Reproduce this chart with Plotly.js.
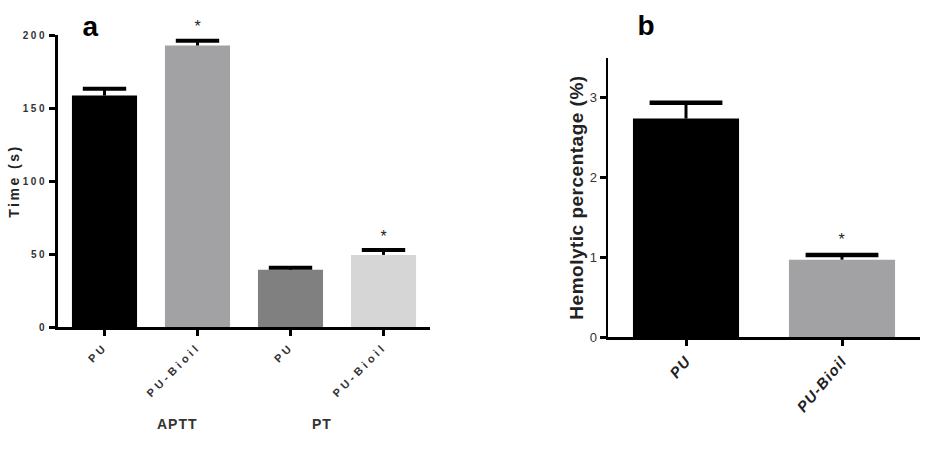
<!DOCTYPE html>
<html>
<head>
<meta charset="utf-8">
<script src="https://cdn.plot.ly/plotly-3.0.1.min.js"></script>
<style>
html,body{margin:0;padding:0;background:#fff;}
#chart{width:925px;height:450px;}
#chart g.xtick text{letter-spacing:3.5px;}
#chart g.ytick text{letter-spacing:2.5px;}
#chart text.ytitle{letter-spacing:2.5px;}
#chart text.y2title{letter-spacing:0.5px;}
#chart g.x2tick text{letter-spacing:1.2px;}
#chart g.annotation-text-g text{letter-spacing:1px;}
</style>
</head>
<body>
<div id="chart"></div>
<script>
// Panel a: coagulation times
const aLabels = ["PU", "PU-Bioil", "PU", "PU-Bioil"];
const aGroups = ["APTT", "PT"];
const aValues = [158.5, 192.8, 39.2, 49.4];
const aErrors = [4.6, 3.2, 1.3, 3.3];
const aColors = ["#000000", "#a2a2a4", "#808080", "#d6d6d6"];
const aSignificant = [false, true, false, true];

// Panel b: hemolysis
const bLabels = ["PU", "PU-Bioil"];
const bValues = [2.74, 0.97];
const bErrors = [0.2, 0.06];
const bColors = ["#000000", "#a2a2a4"];
const bSignificant = [false, true];

const aIdx = aLabels.map((_, i) => i);
const bIdx = bLabels.map((_, i) => i);
const zeros = n => new Array(n).fill(0);
const tops = (v, e) => v.map((x, i) => x + e[i]);

const font = "Liberation Sans, Arial, sans-serif";

function errTrace(idx, vals, errs, xa, ya, capW, capT) {
  return {
    type: "scatter", mode: "markers", x: idx, y: tops(vals, errs), xaxis: xa, yaxis: ya,
    marker: {symbol: "line-ew", size: capW, color: "#000", line: {color: "#000", width: capT}},
    error_y: {type: "data", symmetric: false, array: zeros(vals.length), arrayminus: errs,
              color: "#000", thickness: 3, width: 0},
    hoverinfo: "skip", cliponaxis: false
  };
}

const traces = [
  {
    type: "bar", x: aIdx, y: aValues, xaxis: "x", yaxis: "y",
    marker: {color: aColors, line: {width: 0}}, width: 0.7, hoverinfo: "skip"
  },
  errTrace(aIdx, aValues, aErrors, "x", "y", 31, 4),
  {
    type: "bar", x: bIdx, y: bValues, xaxis: "x2", yaxis: "y2",
    marker: {color: bColors, line: {width: 0}}, width: 0.68, hoverinfo: "skip"
  },
  errTrace(bIdx, bValues, bErrors, "x2", "y2", 52, 4.5)
];

const annotations = [];
aSignificant.forEach((s, i) => {
  if (s) annotations.push({xref: "x", yref: "y", x: aIdx[i], y: aValues[i] + aErrors[i],
    text: "*", showarrow: false, yanchor: "middle", yshift: 14, font: {family: font, size: 16, color: "#222"}});
});
bSignificant.forEach((s, i) => {
  if (s) annotations.push({xref: "x2", yref: "y2", x: bIdx[i], y: bValues[i] + bErrors[i],
    text: "*", showarrow: false, yanchor: "middle", yshift: 15, font: {family: font, size: 16, color: "#222"}});
});
const groupX = [177, 322];
aGroups.forEach((g, gi) => {
  annotations.push({xref: "paper", yref: "paper", x: groupX[gi] / 925, y: 1 - 424 / 450,
    xanchor: "center", yanchor: "middle",
    text: "<b>" + g + "</b>", showarrow: false, font: {family: font, size: 14, color: "#333"}});
});
annotations.push({xref: "paper", yref: "paper", x: 91 / 925, y: 1 - 26 / 450, xanchor: "center", yanchor: "middle",
  text: "<b>a</b>", showarrow: false, font: {family: font, size: 28, color: "#000"}});
annotations.push({xref: "paper", yref: "paper", x: 646 / 925, y: 1 - 25 / 450, xanchor: "center", yanchor: "middle",
  text: "<b>b</b>", showarrow: false, font: {family: font, size: 28, color: "#000"}});

const axisCommon = {
  showgrid: false, zeroline: false, showline: true, linecolor: "#000", linewidth: 3,
  ticks: "outside", ticklen: 6, tickwidth: 3, tickcolor: "#000", fixedrange: true
};

const layout = {
  width: 925, height: 450,
  margin: {l: 0, r: 0, t: 0, b: 0},
  paper_bgcolor: "#fff", plot_bgcolor: "#fff",
  showlegend: false,
  xaxis: Object.assign({}, axisCommon, {
    domain: [58 / 925, 430 / 925], range: [-0.5, 3.5],
    tickvals: aIdx, ticktext: aLabels, tickangle: -45,
    tickfont: {family: font, size: 11, color: "#333", weight: "bold"}, anchor: "y"
  }),
  yaxis: Object.assign({}, axisCommon, {
    domain: [1 - 327 / 450, 1 - 35 / 450], range: [0, 200],
    tickvals: [0, 50, 100, 150, 200],
    tickfont: {family: font, size: 10, color: "#333", weight: "bold"}, anchor: "x",
    title: {text: "Time (s)", font: {family: font, size: 14, color: "#222", weight: "bold"}, standoff: 8}
  }),
  xaxis2: Object.assign({}, axisCommon, {
    domain: [608 / 925, 920 / 925], range: [-0.5, 1.5],
    tickvals: bIdx, ticktext: bLabels.map(t => "<i>" + t + "</i>"), tickangle: -50,
    tickfont: {family: font, size: 15, color: "#222", weight: "bold"}, anchor: "y2"
  }),
  yaxis2: Object.assign({}, axisCommon, {
    domain: [1 - 337 / 450, 1 - 58 / 450], range: [0, 3.5],
    tickvals: [0, 1, 2, 3], linewidth: 2.5,
    tickfont: {family: font, size: 13, color: "#333"}, anchor: "x2",
    title: {text: "Hemolytic percentage (%)", font: {family: font, size: 19, color: "#222", weight: "bold"}, standoff: 1}
  }),
  annotations: annotations
};

Plotly.newPlot("chart", traces, layout, {displayModeBar: false, staticPlot: true});
</script>
</body>
</html>
